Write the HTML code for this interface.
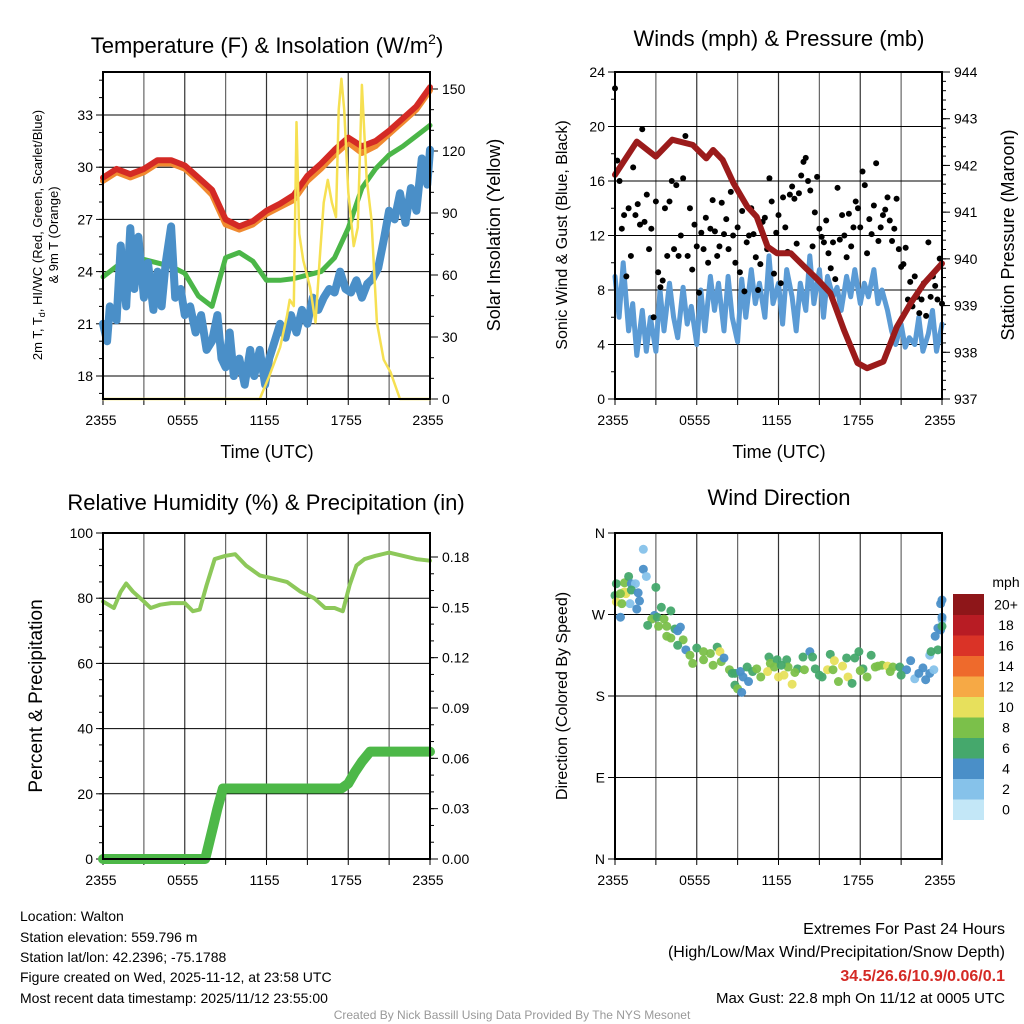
<!DOCTYPE html>
<html><head><meta charset="utf-8"><style>
body{margin:0;background:#fff;}
svg{display:block;font-family:"Liberation Sans",sans-serif;}
</style></head><body>
<svg id="fig" width="1024" height="1024" viewBox="0 0 1024 1024" xmlns="http://www.w3.org/2000/svg">
<rect width="1024" height="1024" fill="#fff"/>
<g id="layer"></g>
<text x="267" y="53" font-size="22" text-anchor="middle">Temperature (F) &amp; Insolation (W/m<tspan dy="-9" font-size="14">2</tspan><tspan dy="9">)</tspan></text>
<text x="779" y="46" font-size="22" text-anchor="middle">Winds (mph) &amp; Pressure (mb)</text>
<text x="266" y="510" font-size="22" text-anchor="middle">Relative Humidity (%) &amp; Precipitation (in)</text>
<text x="779" y="505" font-size="22" text-anchor="middle">Wind Direction</text>
<text x="267" y="458" font-size="18" text-anchor="middle">Time (UTC)</text>
<text x="779" y="458" font-size="18" text-anchor="middle">Time (UTC)</text>
<text transform="translate(42,235) rotate(-90)" font-size="13" text-anchor="middle">2m T, T<tspan dy="3" font-size="9">d</tspan><tspan dy="-3">, HI/WC (Red, Green, Scarlet/Blue)</tspan></text>
<text transform="translate(58,235) rotate(-90)" font-size="13" text-anchor="middle">&amp; 9m T (Orange)</text>
<text transform="translate(500,235) rotate(-90)" font-size="18" text-anchor="middle">Solar Insolation (Yellow)</text>
<text transform="translate(567,235) rotate(-90)" font-size="16" text-anchor="middle">Sonic Wind &amp; Gust (Blue, Black)</text>
<text transform="translate(1014,235) rotate(-90)" font-size="18" text-anchor="middle">Station Pressure (Maroon)</text>
<text transform="translate(42,696) rotate(-90)" font-size="19" text-anchor="middle">Percent &amp; Precipitation</text>
<text transform="translate(567,696) rotate(-90)" font-size="16" text-anchor="middle">Direction (Colored By Speed)</text>
<text x="1006" y="587" font-size="14" text-anchor="middle">mph</text>
<g font-size="14">
<text x="20" y="921">Location: Walton</text>
<text x="20" y="942">Station elevation: 559.796 m</text>
<text x="20" y="962">Station lat/lon: 42.2396; -75.1788</text>
<text x="20" y="982">Figure created on Wed, 2025-11-12, at 23:58 UTC</text>
<text x="20" y="1003">Most recent data timestamp: 2025/11/12 23:55:00</text>
</g>
<g text-anchor="end">
<text x="1005" y="934" font-size="16">Extremes For Past 24 Hours</text>
<text x="1005" y="957" font-size="16">(High/Low/Max Wind/Precipitation/Snow Depth)</text>
<text x="1005" y="981" font-size="16" font-weight="bold" fill="#d42a25">34.5/26.6/10.9/0.06/0.1</text>
<text x="1005" y="1003" font-size="15">Max Gust: 22.8 mph On 11/12 at 0005 UTC</text>
</g>
<text x="512" y="1019" font-size="12" fill="#999" text-anchor="middle">Created By Nick Bassill Using Data Provided By The NYS Mesonet</text>
</svg>
<script>
// ---------- data ----------
const timeTicks = ["2355","0555","1155","1755","2355"];
const tempTickLabels = [18,21,24,27,30,33];
const insolTickLabels = [0,30,60,90,120,150];
const windTickLabels = [0,4,8,12,16,20,24];
const presTickLabels = [937,938,939,940,941,942,943,944];
const rhTickLabels = [0,20,40,60,80,100];
const precipTickLabels = ["0.00","0.03","0.06","0.09","0.12","0.15","0.18"];
const dirTickLabels = ["N","E","S","W","N"];
const speedBins = ["0","2","4","6","8","10","12","14","16","18","20+"];

const tempHours = [0,1,2,3,4,5,6,7,8,9,10,11,12,13,14,15,16,17,18,19,20,21,22,23,24];
const tempRed = [29.4,29.9,29.6,29.9,30.4,30.4,30.1,29.4,28.7,27.0,26.6,26.9,27.5,27.9,28.4,29.5,30.2,31.0,31.7,31.2,31.5,32.1,32.8,33.5,34.6];
const tempOrange = [29.3,29.8,29.5,29.8,30.3,30.3,30.0,29.3,28.5,26.8,26.5,26.8,27.4,27.8,28.2,29.3,30.0,30.8,31.5,30.9,31.3,32.0,32.7,33.4,34.5];
const tempGreen = [23.7,24.3,24.8,24.7,24.5,24.3,23.9,22.6,22.0,24.8,25.1,24.6,23.5,23.5,23.6,23.8,24.0,24.8,26.5,28.8,29.9,30.7,31.2,31.8,32.4];
const dewHours = [0,0.3,0.5,1,1.3,1.7,2,2.3,2.6,3,3.3,3.7,4,4.3,4.6,5,5.3,5.7,6,6.4,6.8,7.2,7.6,8,8.4,8.7,9,9.3,9.6,10,10.4,10.8,11.1,11.5,11.9,12.2,12.6,13,13.4,13.8,14.2,14.6,15,15.4,15.8,16.2,16.6,17,17.4,17.8,18.2,18.6,19,19.4,19.8,20.2,20.6,21,21.4,21.8,22.2,22.6,23,23.4,23.8,24];
const dewBlue = [21,20,22,21.2,25.5,22,26.5,23,26,22.5,24.5,21.8,24,22,24.5,26.6,22.5,23,21.5,22,20.5,21.5,19.5,20,21.5,19,18.5,20.5,18,19,17.5,19.5,18,19.5,17.5,19,20,21,20.2,21.5,20.5,21.8,21,22.5,21.8,22.5,23,22.8,24,23,22.8,23.5,22.5,23.3,23.6,24.2,25.8,27.5,27,28.5,26.8,28.8,27.5,30.5,29,31];
const insolHours = [0,11.5,12.2,13,13.5,13.7,14.0,14.2,14.4,14.7,15.2,15.6,15.9,16.2,16.5,16.8,17.1,17.3,17.5,17.7,18.0,18.4,18.7,19.0,19.35,19.7,20.1,20.6,21.1,21.8,24];
const insolValues = [0,0,11,25,40,48,45,134,80,67,54,37,67,95,106,95,88,140,155,140,100,74,83,152,107,87,37,19,13,0,0];

const presHours = [0,1.6,3.0,4.2,5.7,6.7,7.2,7.9,8.7,9.7,10.4,11.2,11.9,12.9,13.9,14.9,15.8,16.8,17.8,18.5,19.7,20.7,21.7,22.7,24];
const presValues = [941.8,942.51,942.19,942.55,942.44,942.15,942.33,942.12,941.62,941.12,940.9,940.26,940.12,940.12,939.83,939.55,939.27,938.48,937.77,937.66,937.8,938.55,939.05,939.48,939.9];
const windHours = [0,0.3,0.6,1,1.3,1.6,2,2.3,2.6,3,3.3,3.6,4,4.3,4.6,5,5.3,5.6,6,6.3,6.6,7,7.3,7.6,8,8.3,8.6,9,9.3,9.6,10,10.3,10.6,11,11.3,11.6,12,12.3,12.6,13,13.3,13.6,14,14.3,14.6,15,15.3,15.6,16,16.3,16.6,17,17.3,17.6,18,18.3,18.6,19,19.3,19.6,20,20.3,20.6,21,21.3,21.6,22,22.3,22.6,23,23.3,23.6,24];
const windValues = [9,6,10,5,7,3.2,6.5,3.5,6,3.5,8,5,8.5,6,4.5,8.2,5.5,6.8,4,8,5,9,6.5,8.5,5,9,6,4.2,8.8,6,9.5,7,8.5,6,10.5,7,8.5,5.5,9.5,7.5,5,8.5,6.5,10.5,7,9.5,6,9,7.5,8.2,6.5,9,7.5,9.5,7,8.5,7.5,9.5,7,8,6.5,5,4,5.5,3.8,4.5,4,6,3.5,4.8,6.5,3.5,5.5];
const gustValues = [22.8,17.5,16,12.5,13.5,9, 14,10.5,17,13.5,14.3,12.8, 19.8,13,15,11,12.5,6, 14.5,9.3,8.2,8.7,14,10.5, 14.5,16,11,15.7,10.5,12, 16.2,19.3,10.5,14,9.5,12.8, 11.2,7.8,12.2,11,13.3,10, 12.5,14.6,12.3,10.5,11.2,14.4, 12.1,13.2,11,15.2,12,10, 12.6,9.3,13.8,7.9,11.5,12, 14,12.1,10.4,8,9.9,13, 13.3,11,16.2,14.5,9.2,12.2, 13.5,8.5,14.8,12.6,10.8,15, 15.6,14.7,11.4,15.1,16.4,17.4, 17.7,16,15.3,11.2,13.7,16.3, 12.5,11.9,11.5,13.1,10.7,9.6, 11.5,8.8,15.5,11.7,13.5,12, 10.4,13.6,11.2,12.6,14.5,14, 12.6,16.7,15.7,10.7,13.2,12.1, 14.2,17.3,11.6,12.6,13.5,13.9, 14.8,13.1,11.6,12.5,14.7,11, 9.7,9.9,11.1,7.3,8.6,6.8, 9,7.5,6.3,7.3,8.5,6.1, 11.5,7.5,9,8.3,7.3,10.3, 7.0];

const rhHours = [0,0.8,1.3,1.7,2.2,3,3.5,4.2,5,6,6.6,7.1,7.6,8.2,9,9.7,10.5,11.5,12.5,13.5,14.5,15.5,16.3,17,17.6,18.1,18.6,19.2,20,21,22,23,24];
const rhValues = [79,77,82,84.5,82,79,77,78,78.5,78.5,76,76.5,84,92,93,93.5,90,87,86,85,82,80,77,77,76,84,90,92,93,94,93,92,91.5];
const precipHours = [0,7.5,7.8,8.1,8.4,8.8,17.5,18,18.5,19,19.6,24];
const precipValues = [0,0,0.01,0.02,0.03,0.042,0.042,0.045,0.052,0.058,0.064,0.064];

const dirHours = [2.08,2.08,2.3,0.1,0.7,1.0,1.2,1.5,0.7,0.8,0,0.4,1.2,1.7,1.8,1.1,0.1,0.5,1.6,0.4,3.0,3.4,2.9,2.7,3.1,3.6,4.1,2.4,3.2,3.8,4.4,4.8,4.6,3.8,4.1,5.0,4.6,5.2,5.5,6.0,6.5,7.5,7.7,7.0,5.7,6.5,7.2,7.8,8.0,8.4,8.8,9.2,9.4,8.8,9.0,9.3,9.8,9.7,10.1,10.7,11.3,11.4,11.9,11.2,11.7,12.0,12.4,12.6,12.7,13.0,13.4,13.8,14.3,14.5,13.9,14.7,15.2,15.6,15.8,16.1,16.4,16.7,17.0,17.1,17.4,17.6,17.9,18.2,18.5,18.8,19.1,19.6,20.0,20.4,20.9,21.4,21.7,22.0,22.3,22.8,23.1,23.4,23.1,23.2,23.7,23.5,23.7,23.9,24,24,24,23.9,24,8.6,10.4,12.2,13.2,15.0,16.0,19.3,20.2,21.0,22.6,18.0];
const dirValues = [342,320,312,304,305,312,304,304,295,293,291,293,297,294,285,282,284,282,276,267,300,278,269,265,267,265,274,258,257,257,254,256,252,246,244,242,236,231,225,233,229,234,229,227,216,220,214,218,222,209,205,207,201,192,188,184,196,212,207,201,223,216,220,207,212,201,203,220,212,193,210,223,229,223,209,210,201,209,226,219,196,213,222,201,194,222,229,210,201,225,212,214,213,212,212,209,219,199,205,198,205,209,225,229,231,246,255,253,264,257,267,282,286,205,210,214,206,203,209,213,207,203,211,208,206];
const dirSpeeds = [2.5,4.5,2.5,6.5,8.5,6.5,4.5,2.5,10.5,10.5,6.5,8.5,6.5,4.5,4.5,2.5,10.5,8.5,4.5,4.5,6.5,6.5,4.5,8.5,6.5,8.5,6.5,6.5,8.5,8.5,6.5,4.5,4.5,8.5,8.5,8.5,6.5,4.5,8.5,6.5,8.5,6.5,10.5,8.5,8.5,8.5,8.5,8.5,4.5,8.5,6.5,4.5,4.5,6.5,8.5,4.5,4.5,6.5,6.5,8.5,6.5,8.5,6.5,10.5,8.5,10.5,10.5,6.5,8.5,10.5,6.5,6.5,4.5,6.5,8.5,6.5,6.5,10.5,6.5,10.5,8.5,10.5,6.5,10.5,6.5,6.5,6.5,6.5,8.5,6.5,8.5,8.5,10.5,8.5,6.5,4.5,4.5,2.5,4.5,4.5,4.5,2.5,2.5,6.5,6.5,4.5,4.5,4.5,2.5,6.5,4.5,4.5,4.5,6.5,8.5,6.5,8.5,6.5,8.5,8.5,8.5,6.5,4.5,8.5,6.5,8.5];
const binColors = ["#c3e7f7","#86c2ea","#4a8fc8","#45a86c","#7bc04a","#e7e05c","#f6a945","#ee6a2c","#da3327","#b81c24","#8e1619"];

// ---------- helpers ----------
const NS = "http://www.w3.org/2000/svg";
const layer = document.getElementById("layer");
function mk(tag, attrs, parent) {
  const e = document.createElementNS(NS, tag);
  for (const k in attrs) e.setAttribute(k, attrs[k]);
  (parent || layer).appendChild(e);
  return e;
}
const PW = 327;
function xScale(x0) { return t => x0 + t * PW / 24; }
function lin(d0, d1, p0, p1) { return v => p0 + (v - d0) * (p1 - p0) / (d1 - d0); }
function txt(x, y, s, anchor, size, parent) {
  const e = mk("text", {x: x, y: y, "text-anchor": anchor, "font-size": size}, parent);
  e.textContent = s;
  return e;
}

function frame(name, x0, top, bottom, hGridYs) {
  const g = mk("g", {});
  
  
  const xs = xScale(x0);
  for (let i = 0; i <= 8; i++) {
    const x = xs(i * 3);
    mk("line", {x1: x, y1: top, x2: x, y2: bottom, stroke: i % 2 ? "#666" : "#333", "stroke-width": 1.2}, g);
    mk("line", {x1: x, y1: bottom, x2: x, y2: bottom + 6, stroke: "#000", "stroke-width": 1}, g);
  }
  hGridYs.forEach(y => mk("line", {x1: x0, y1: y, x2: x0 + PW, y2: y, stroke: "#000", "stroke-width": 1}, g));
  for (let i = 0; i < timeTicks.length; i++) {
    const lab = txt(xs(i * 6) - 2, bottom + 26, timeTicks[i], "middle", 14, g);
    
    
  }
  return g;
}
function border(x0, top, bottom) {
  const r = mk("rect", {x: x0, y: top, width: PW, height: bottom - top, fill: "none", stroke: "#000", "stroke-width": 2});
  
  
}
function leftTicks(g, x0, vals, ys, minorStep, labels) {
  vals.forEach((v, i) => {
    const y = ys(v);
    mk("line", {x1: x0 - 7, y1: y, x2: x0, y2: y, stroke: "#000"}, g);
    const l = txt(x0 - 10, y + 5, labels ? labels[i] : String(v), "end", 14, g);
    
    
  });
}
function rightTicks(g, xr, vals, ys, labels, minorVals) {
  (minorVals || []).forEach(v => mk("line", {x1: xr, y1: ys(v), x2: xr + 4, y2: ys(v), stroke: "#000"}, g));
  vals.forEach((v, i) => {
    const y = ys(v);
    mk("line", {x1: xr, y1: y, x2: xr + 8, y2: y, stroke: "#000"}, g);
    const l = txt(xr + 12, y + 5, labels ? labels[i] : String(v), "start", 14, g);
    
    
  });
}
function minorLeft(g, x0, vals, ys) {
  vals.forEach(v => mk("line", {x1: x0 - 4, y1: ys(v), x2: x0, y2: ys(v), stroke: "#000"}, g));
}
function path(hours, vals, xs, ys, color, w, name) {
  const n = Math.min(hours.length, vals.length);
  const pts = [];
  for (let i = 0; i < n; i++) pts.push(xs(hours[i]).toFixed(1) + "," + ys(vals[i]).toFixed(1));
  const p = mk("polyline", {points: pts.join(" "), fill: "none", stroke: color, "stroke-width": w, "stroke-linejoin": "round", "stroke-linecap": "round"});
  
  
  return p;
}
function range(a, b, s) { const r = []; for (let v = a; v <= b + 1e-9; v += s) r.push(+v.toFixed(4)); return r; }

// ---------- panel 1 ----------
{
  const x0 = 103, top = 72, bot = 399, xs = xScale(x0);
  const ys = lin(18, 33, 376, 115);
  const yr = lin(0, 150, 399, 89);
  const g = frame("temp", x0, top, bot, tempTickLabels.map(ys));
  leftTicks(g, x0, tempTickLabels, ys);
  minorLeft(g, x0, range(17, 35, 1), ys);
  rightTicks(g, x0 + PW, insolTickLabels, yr, null, range(0, 150, 10));
  path(tempHours, tempOrange, xs, v => ys(v) + 1.5, "#f08a30", 6, "temp-9m-orange-line");
  path(tempHours, tempRed, xs, ys, "#d42a25", 6, "temp-2m-red-line");
  path(tempHours, tempGreen, xs, ys, "#4bb648", 5, "hi-wc-green-line");
  path(dewHours, dewBlue, xs, ys, "#4a8fc8", 8, "dewpoint-blue-line");
  path(insolHours, insolValues, xs, yr, "#f6e052", 2.5, "insolation-yellow-line");
  border(x0, top, bot);
}
// ---------- panel 2 ----------
{
  const x0 = 615, top = 72, bot = 399, xs = xScale(x0);
  const ys = lin(0, 24, 399, 72);
  const yp = lin(937, 944, 399, 72);
  const g = frame("winds", x0, top, bot, windTickLabels.map(ys));
  leftTicks(g, x0, windTickLabels, ys);
  minorLeft(g, x0, range(0, 24, 2), ys);
  rightTicks(g, x0 + PW, presTickLabels, yp, null, range(937, 944, 0.2));
  path(windHours, windValues, xs, ys, "#5b9bd5", 5, "sonic-wind-blue-line");
  gustValues.forEach((v, i) => {
    const c = mk("circle", {cx: xs(i / 6), cy: ys(v), r: 3, fill: "#000"});
    
    
  });
  path(presHours, presValues, xs, yp, "#9b1b1b", 6, "pressure-maroon-line");
  border(x0, top, bot);
}
// ---------- panel 3 ----------
{
  const x0 = 103, top = 533, bot = 859, xs = xScale(x0);
  const ys = lin(0, 100, 859, 533);
  const yq = lin(0, 0.18, 859, 557);
  const g = frame("rh", x0, top, bot, rhTickLabels.map(ys));
  leftTicks(g, x0, rhTickLabels, ys);
  minorLeft(g, x0, range(0, 100, 5), ys);
  rightTicks(g, x0 + PW, precipTickLabels.map(Number), yq, precipTickLabels, range(0, 0.18, 0.01));
  path(precipHours, precipValues, xs, yq, "#4db848", 10, "precip-green-line");
  path(rhHours, rhValues, xs, ys, "#8dc85a", 4, "rh-line");
  border(x0, top, bot);
}
// ---------- panel 4 ----------
{
  const x0 = 615, top = 533, bot = 859, xs = xScale(x0);
  const ys = lin(0, 360, 859, 533);
  const g = frame("direction", x0, top, bot, [0, 90, 180, 270, 360].map(ys));
  leftTicks(g, x0, [0, 90, 180, 270, 360], ys, null, dirTickLabels);
  const nDir = Math.min(dirHours.length, dirValues.length, dirSpeeds.length);
  for (let i = 0; i < nDir; i++) {
    const bin = Math.min(10, Math.floor(dirSpeeds[i] / 2));
    const c = mk("circle", {cx: xs(dirHours[i]), cy: ys(dirValues[i]), r: 4.5, fill: binColors[bin], opacity: 0.95});
    
    
  }
  border(x0, top, bot);
  const cb = mk("g", {});
  
  
  const bh = 20.5;
  speedBins.forEach((lab, i) => {
    const y = 594 + (10 - i) * bh;
    const r = mk("rect", {x: 953, y: y, width: 31, height: bh + 0.5, fill: binColors[i]}, cb);
    
    
    const t = txt(1006, y + bh / 2 + 5, lab, "middle", 14, cb);
    
    
  });
}
</script>
</body></html>
